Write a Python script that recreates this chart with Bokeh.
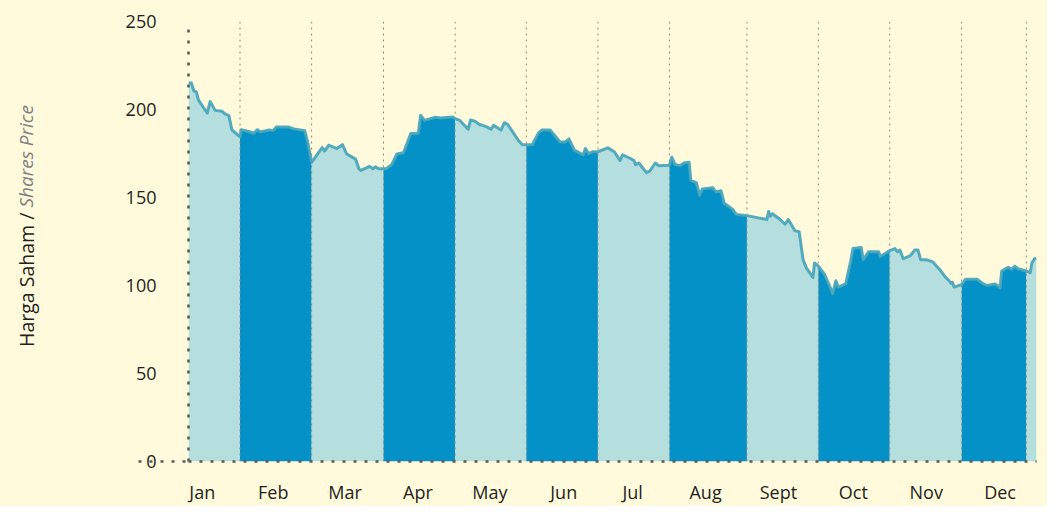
from bokeh.plotting import figure
from bokeh.layouts import row
from bokeh.models import FixedTicker, Range1d, LinearAxis
from bokeh.core.properties import value
from bokeh.embed import file_html
from bokeh.resources import INLINE
import math

# ---- data (x = position along the year, price = share price) ----
t = [0, 3, 5.5, 8, 10, 19, 22, 27, 34, 37, 41, 44, 52.3,
     53.5, 61, 66, 70, 73, 82, 86, 89, 102, 107, 118, 121, 125,
     135.7, 138.3, 142.3, 150.7, 156.3, 160.7, 169.7, 173, 175, 184, 187.3, 189.7, 193, 198,
     200.7, 206.3, 211.7, 218.3, 225.7, 233.3, 235.7, 239.7, 250.7, 255.7, 268.3, 270.7,
     275.5, 284, 286.3, 290.7, 295, 302.3, 307.3, 309.7, 317.3, 320.7, 324, 335, 339, 343,
     349, 355.7, 359, 367.3, 377.3, 382.3, 386.3, 391.7, 400.7, 403, 406.3, 410.7, 415.7,
     425.7, 432.3, 438.3, 440.7, 448.3, 452.3, 454, 457.3, 465, 468.3, 474, 477.3, 488.3,
     490.7, 494, 499, 503, 508.3, 510, 515.7, 519, 521.7, 532.3, 535.7, 540.7, 544, 552.3, 556.3, 567,
     587.3, 589, 590.7, 593, 600.7, 605.7, 609, 615.7, 620, 624, 627.3, 634, 635.7, 639.5,
     645.7, 650.7, 654, 657.3, 659.7, 667.3, 672.3, 674.7, 683, 685, 690.7, 700.7, 702.3, 709, 712,
     717.3, 719.7, 722.3, 725.7, 733, 737.3, 740.7, 743.3, 749, 755.7, 764, 768.3, 772.3, 774, 775.7, 777.3, 785,
     789, 800.7, 805.7, 810.7, 819, 824, 825.7, 832.3, 835.7, 839, 842.3, 850.7,
     854.7, 856.3, 859, 861]
price = [215, 215, 210.5, 210, 205.5, 198, 204.5, 199.5, 199, 197.5, 196.5, 188.5, 184.5,
         188.5, 187.5, 186.5, 188.5, 187.3, 188.3, 188, 190, 190, 189, 188, 181.5, 170,
         178.4, 176.4, 179.7, 177.8, 180, 174.7, 171.8, 166.3, 165.4, 167.7, 166.3, 167.4, 166.3, 166.3,
         166.3, 168.7, 174.7, 175.4, 186.4, 186.4, 196.7, 193.8, 195.6, 195.2, 195.8, 194.8,
         193.8, 188.8, 194, 193.4, 191.6, 190.3, 188.8, 191, 188.3, 192.5, 191.6, 182.4, 180, 180,
         180, 187, 188.3, 188.3, 181.5, 181.5, 183.3, 176.9, 174.2, 177.8, 174.9, 176, 176,
         178.2, 176, 171, 174.2, 172.3, 171, 168.7, 169.6, 164.1, 165, 169.6, 168.1, 168.3,
         172.9, 168.7, 168.1, 169.6, 170, 159.9, 158.3, 151.3, 154.9, 155.6, 153.1, 153.8, 146.7, 143.4, 140.3, 139.7,
         137.5, 142.1, 139.4, 140.8, 137.5, 134.8, 137.5, 131.1, 130.6, 114.7, 110, 104.6, 112.8, 111,
         106.4, 100, 95.4, 102.7, 99.1, 100.9, 113.7, 121, 121.6, 114.7, 119.2, 119.2, 116.5, 118.8, 119.8,
         121, 119.2, 120.1, 115.2, 117, 120.1, 120.1, 114.7, 114.7, 113.4, 108.2, 104.9, 102.7, 101.3, 101.8, 99.1, 100.5,
         103.6, 103.6, 101.3, 100, 100.9, 98.7, 108.2, 110.4, 109.2, 111, 109.5, 108.2,
         107.3, 112.8, 115.2, 115.5]

band_edges = [0, 52.3, 125, 198, 270.7, 343, 415.7, 488.3, 567, 639.5, 712, 785, 850.7, 861]
month_labels = ["Jan", "Feb", "Mar", "Apr", "May", "Jun", "Jul", "Aug", "Sept", "Oct", "Nov", "Dec"]
month_ticks = [14, 86, 159, 233, 306, 381, 451, 525, 599, 675, 749, 824]
y_ticks = [0, 50, 100, 150, 200, 250]
y_title_main = "Harga Saham / "
y_title_en = "Shares Price"

BG = "#fffadc"
LIGHT = "#b5dedf"
DARK = "#0391c7"
LINE = "#4aa6ba"
AXIS = "#5e5852"
FONT = "Open Sans"
H = 506

# ---- narrow strip holding the two-style y-axis title ----
tf = figure(width=40, height=H, output_backend="svg", toolbar_location=None,
            x_range=Range1d(0, 40), y_range=Range1d(0, H),
            x_axis_type=None, y_axis_type=None, min_border=0)
tf.background_fill_color = BG
tf.border_fill_color = BG
tf.outline_line_color = None
tf.grid.visible = False
tf.text(x=[25.5], y=[H - 214], text=[y_title_main], angle=math.pi / 2,
        text_align="right", text_baseline="alphabetic",
        text_font=value(FONT), text_font_size="19.5px", text_color="#231f20")
tf.text(x=[25.5], y=[H - 214], text=[y_title_en], angle=math.pi / 2,
        text_align="left", text_baseline="alphabetic", text_font_style="italic",
        text_font=value(FONT), text_font_size="19px", text_color="#808080")

# ---- main chart ----
p = figure(width=1007, height=H, output_backend="svg", toolbar_location=None,
           x_range=Range1d(0, 861), y_range=Range1d(0, 250),
           min_border_left=148, min_border_right=11, min_border_top=21, min_border_bottom=44)
p.background_fill_color = BG
p.border_fill_color = BG
p.outline_line_color = None
p.grid.visible = False

# month bands
for i in range(len(band_edges) - 1):
    a, b = band_edges[i], band_edges[i + 1]
    xs = [x for x in t if a <= x <= b]
    ys = [y for x, y in zip(t, price) if a <= x <= b]
    p.varea(x=xs, y1=[0] * len(xs), y2=ys, fill_color=LIGHT if i % 2 == 0 else DARK)

# dotted month separators
sep = band_edges[1:-1]
p.segment(x0=sep, y0=[0] * len(sep), x1=sep, y1=[250] * len(sep),
          line_color="#9a867a", line_width=1, line_dash="2 4")

# price line
p.line(t, price, line_color=LINE, line_width=3, line_join="round", line_alpha=0.95)

# x axis
xa = p.xaxis[0]
xa.axis_line_color = AXIS
xa.axis_line_width = 2.5
xa.axis_line_dash = "3 8"
xa.major_tick_line_color = None
xa.minor_tick_line_color = None
xa.major_tick_out = 0
xa.major_tick_in = 0
xa.major_label_text_font = FONT
xa.major_label_text_font_size = "18px"
xa.major_label_text_color = "#231f20"
xa.ticker = FixedTicker(ticks=month_ticks)
xa.major_label_overrides = {k: v for k, v in zip(month_ticks, month_labels)}
xa.major_label_standoff = 18

# inner y axis: dotted axis line + dotted extension of the baseline at 0 (no labels)
ya = p.yaxis[0]
ya.ticker = FixedTicker(ticks=[0])
ya.axis_line_color = AXIS
ya.axis_line_width = 2.5
ya.axis_line_dash = "3 8"
ya.major_tick_line_color = AXIS
ya.major_tick_line_width = 2.5
ya.major_tick_line_dash = "3 8"
ya.major_tick_out = 50
ya.major_tick_in = 0
ya.minor_tick_line_color = None
ya.major_label_text_color = None
ya.major_label_text_alpha = 0
ya.major_label_text_font_size = "1px"
ya.major_label_standoff = 0

# outer y axis: tick labels only
yl = LinearAxis(ticker=FixedTicker(ticks=y_ticks))
yl.axis_line_color = None
yl.major_tick_line_color = None
yl.minor_tick_line_color = None
yl.major_tick_out = 0
yl.major_tick_in = 0
yl.major_label_standoff = -18
yl.major_label_text_font = FONT
yl.major_label_text_font_size = "18px"
yl.major_label_text_color = "#231f20"
p.add_layout(yl, "left")

layout = row(tf, p, spacing=0, styles={"background-color": BG})
html = file_html(layout, INLINE)
html = html.replace("<body>", '<body style="background-color:%s">' % BG, 1)
open("out.html", "w").write(html)
